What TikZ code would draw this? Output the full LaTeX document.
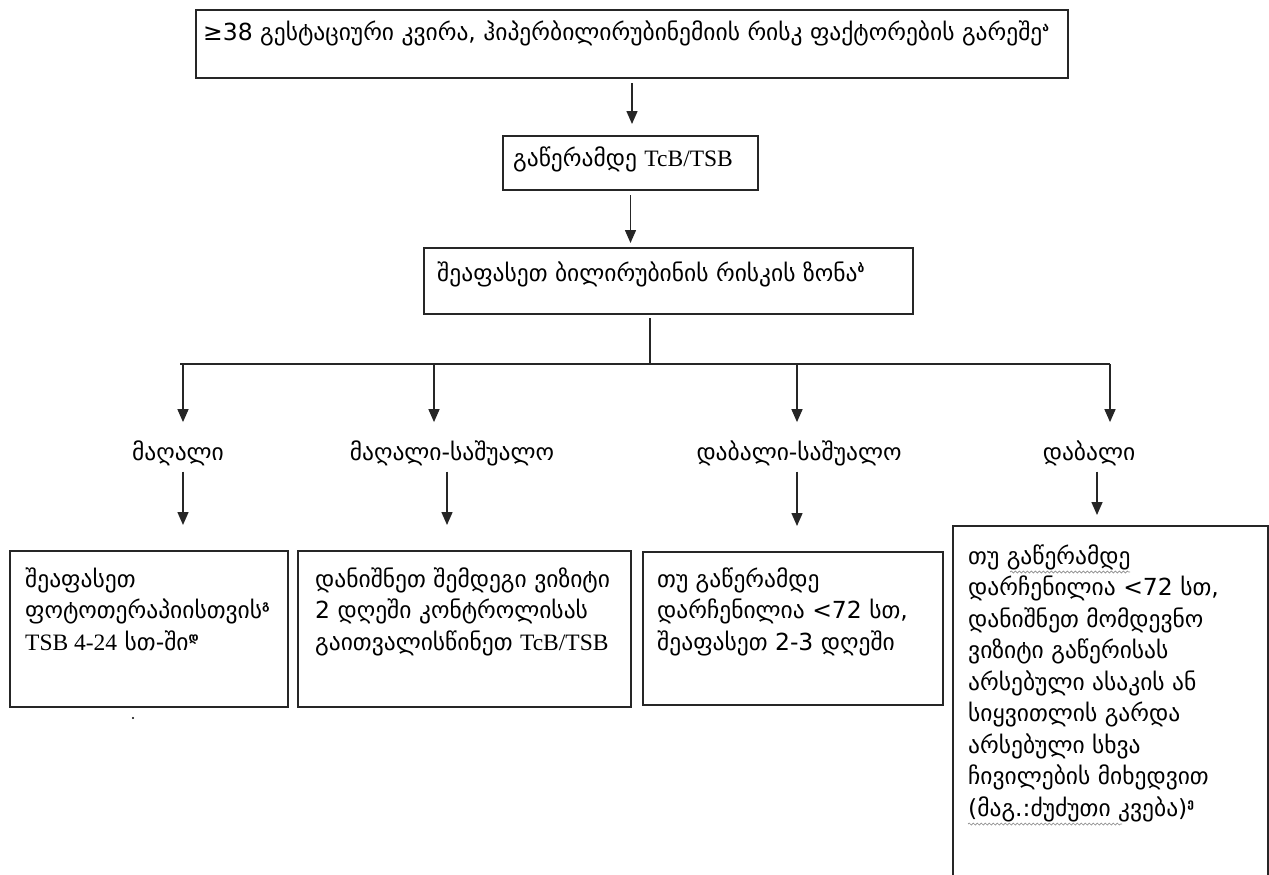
\documentclass[tikz,border=0pt]{standalone}
\usepackage{fontspec}
\setmainfont{DejaVu Sans}
\newfontfamily\latf{Liberation Serif}
\usetikzlibrary{arrows.meta,calc,decorations.pathmorphing}
\newcommand\lat[1]{{\latf #1}}
\newcommand\sps[1]{\raisebox{9pt}{\fontsize{12}{12}\selectfont\bfseries #1}}
\newcommand\mlines[2]{\begin{minipage}[t]{#1}\raggedright #2\end{minipage}}
\begin{document}
\begin{tikzpicture}[x=1pt,y=-1pt,
  font=\fontsize{23.5}{31.5}\selectfont,
  bx/.style={draw=black!85, line width=1.5pt, anchor=north west, inner sep=0pt, outer sep=0pt},
  arr/.style={draw=black!85, line width=1.5pt, -{Triangle[width=11pt,length=13pt]}},
  ln/.style={draw=black!85, line width=1.5pt},
  lbl/.style={inner sep=0pt, anchor=base},
  txt/.style={inner sep=0pt, anchor=base west},
  squig/.style={draw=black!45, line width=0.7pt, decorate, decoration={snake, segment length=4pt, amplitude=1pt}}]
\useasboundingbox (0,0) rectangle (1269,875);
% boxes
\node[bx, minimum width=872pt, minimum height=68pt] (top) at (196,10) {};
\node[bx, minimum width=255pt, minimum height=54pt] (b2) at (503,136) {};
\node[bx, minimum width=489pt, minimum height=66pt] (b3) at (424,248) {};
\node[bx, minimum width=278pt, minimum height=156pt] (r1) at (10,551) {};
\node[bx, minimum width=333pt, minimum height=156pt] (r2) at (298,551) {};
\node[bx, minimum width=300pt, minimum height=153pt] (r3) at (643,552) {};
\node[bx, minimum width=315pt, minimum height=380pt] (r4) at (953,526) {};
% texts
\node[txt] (ttop) at (203,41) {≥38 გესტაციური კვირა, ჰიპერბილირუბინემიის რისკ ფაქტორების გარეშე\sps{ა}};
\node[txt] (tb2) at (513,166) {გაწერამდე \lat{TcB/TSB}};
\node[txt] (tb3) at (437,281) {შეაფასეთ ბილირუბინის რისკის ზონა\sps{ბ}};
\node[lbl] (l1) at (178,460) {მაღალი};
\node[lbl] (l2) at (452,460) {მაღალი-საშუალო};
\node[lbl] (l3) at (799,460) {დაბალი-საშუალო};
\node[lbl] (l4) at (1089,460) {დაბალი};
\node[txt] (tr1) at (25,587) {\mlines{260pt}{შეაფასეთ\\ფოტოთერაპიისთვის\sps{გ}\\\lat{TSB 4-24} სთ-ში\sps{დ}}};
\node[txt] (tr2) at (315,587) {\mlines{310pt}{დანიშნეთ შემდეგი ვიზიტი\\2 დღეში კონტროლისას\\გაითვალისწინეთ \lat{TcB/TSB}}};
\node[txt] (tr3) at (657,587) {\mlines{280pt}{თუ გაწერამდე\\დარჩენილია <72 სთ,\\შეაფასეთ 2-3 დღეში}};
\node[txt] (tr4) at (968,564) {\mlines{300pt}{თუ გაწერამდე\\დარჩენილია <72 სთ,\\დანიშნეთ მომდევნო\\ვიზიტი გაწერისას\\არსებული ასაკის ან\\სიყვითლის გარდა\\არსებული სხვა\\ჩივილების მიხედვით\\(მაგ.:ძუძუთი კვება)\sps{ე}}};
% spell-check squiggles
\draw[squig] (1010,572) -- (1130,572);
\draw[squig] (968,824) -- (1122,824);
% connectors
\draw[arr, shorten <=5pt, shorten >=12pt] (top.south) -- (top.south |- b2.north);
\draw[arr, shorten <=5pt, shorten >=5pt] (b2.south) -- (b2.south |- b3.north);
\coordinate (split) at (650,364);
\coordinate (hl) at (180,364);
\coordinate (hr) at (1110,364);
\draw[ln, shorten <=4pt] (b3.south -| split) -- (split);
\draw[ln] (hl) -- (hr);
\coordinate (a1) at (183,364);
\coordinate (a2) at (434,364);
\coordinate (a3) at (797,364);
\coordinate (a4) at (1110,364);
\coordinate (c1) at (183,0);
\coordinate (c2) at (447,0);
\coordinate (c3) at (797,0);
\coordinate (c4) at (1097,0);
\foreach \i in {1,...,4}{
  \draw[arr, shorten >=18pt] (a\i) -- (a\i |- l\i.north);
}
\draw[arr, shorten <=6pt, shorten >=26pt] (l1.south -| c1) -- (c1 |- r1.north);
\draw[arr, shorten <=6pt, shorten >=26pt] (l2.south -| c2) -- (c2 |- r2.north);
\draw[arr, shorten <=6pt, shorten >=26pt] (l3.south -| c3) -- (c3 |- r3.north);
\draw[arr, shorten <=6pt, shorten >=11pt] (l4.south -| c4) -- (c4 |- r4.north);
\fill (133,718) circle (1.2pt);
\end{tikzpicture}
\end{document}
